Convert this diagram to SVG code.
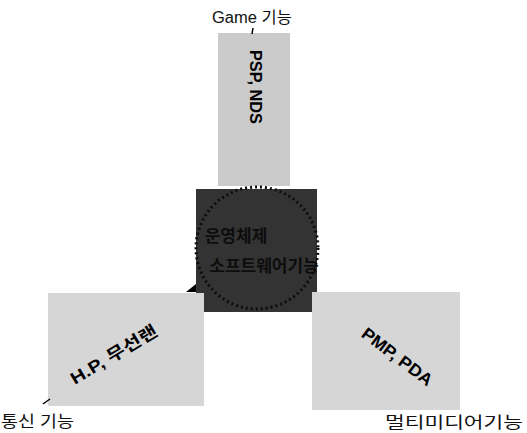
<svg xmlns="http://www.w3.org/2000/svg" width="527" height="433" viewBox="0 0 527 433">
<style>
.lbl{font-family:"Liberation Sans","Noto Sans CJK KR",sans-serif;font-size:16px;fill:#111}
.box{fill:#d6d6d6}
.bt{font-family:"Liberation Sans","Noto Sans CJK KR",sans-serif;font-weight:bold;font-size:17px;fill:#000}
.ct{font-family:"Liberation Sans","Noto Sans CJK KR",sans-serif;font-weight:bold;font-size:17px;fill:#0d0d0d}
.tick{stroke:#000;stroke-width:1.5}
</style>
<rect width="527" height="433" fill="#fff"/>
<g id="game-label"><text class="lbl" x="212" y="23" textLength="80" lengthAdjust="spacingAndGlyphs">Game 기능</text></g>
<g id="game"><rect class="box" x="218" y="33" width="72" height="153" fill="#cbcbcb" style="fill:#cbcbcb"/>
<text class="bt" transform="translate(255,87) rotate(90)" text-anchor="middle" dominant-baseline="central" textLength="74" lengthAdjust="spacingAndGlyphs">PSP, NDS</text></g>
<g id="center"><rect x="196" y="189" width="121" height="123" fill="#333"/>
<circle cx="257" cy="248" r="61" fill="none" stroke="#0d0d0d" stroke-width="3" stroke-dasharray="2 3"/>
<text class="ct" x="236" y="242" text-anchor="middle">운영체제</text>
<text class="ct" x="264" y="272" text-anchor="middle">소프트웨어기능</text></g>
<g id="comm"><rect class="box" x="48" y="293" width="156" height="113"/>
<text class="bt" transform="translate(114,355) rotate(-31)" text-anchor="middle" dominant-baseline="central" textLength="98" lengthAdjust="spacingAndGlyphs">H.P, 무선랜</text></g>
<g id="media"><rect class="box" x="312" y="292" width="148" height="118"/>
<text class="bt" transform="translate(397,357) rotate(37)" text-anchor="middle" dominant-baseline="central" textLength="84" lengthAdjust="spacingAndGlyphs">PMP, PDA</text></g>
<g id="comm-label"><text class="lbl" x="1" y="427" textLength="73" lengthAdjust="spacingAndGlyphs">통신 기능</text></g>
<g id="media-label"><text class="lbl" x="385" y="428" textLength="138" lengthAdjust="spacingAndGlyphs">멀티미디어기능</text></g>
<g id="connectors">
<line class="tick" x1="253" y1="28" x2="252" y2="34"/>
<line class="tick" x1="43" y1="404" x2="50" y2="399"/>
<path d="M186 292 L196 284 L196 292 Z" fill="#000"/>
</g>
</svg>
